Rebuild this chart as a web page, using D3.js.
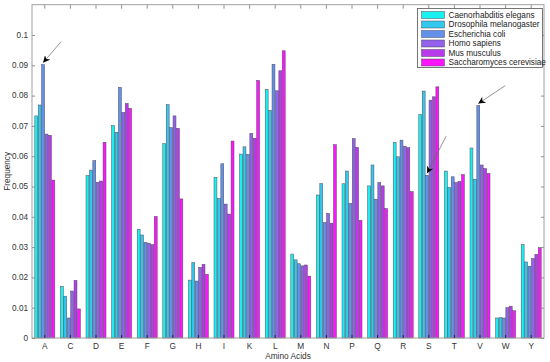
<!DOCTYPE html>
<html>
<head>
<meta charset="utf-8">
<script src="https://cdn.jsdelivr.net/npm/d3@7"></script>
<style>
  body { margin: 0; background: #fff; }
  svg { display: block; font-family: "Liberation Sans", Arial, sans-serif; }
</style>
</head>
<body>
<svg width="550" height="362"></svg>
<script>
const width = 550, height = 362;
const svg = d3.select("svg");

// Data
const aminoAcids = ["A","C","D","E","F","G","H","I","K","L","M","N","P","Q","R","S","T","V","W","Y"];
const species = ["Caenorhabditis elegans","Drosophila melanogaster","Escherichia coli","Homo sapiens","Mus musculus","Saccharomyces cerevisiae"];
const elegans    = [0.0733,0.0170,0.0536,0.0701,0.0359,0.0642,0.0191,0.0530,0.0607,0.0821,0.0277,0.0472,0.0509,0.0502,0.0646,0.0738,0.0551,0.0627,0.0066,0.0308];
const drosophila = [0.0769,0.0138,0.0554,0.0679,0.0340,0.0770,0.0249,0.0460,0.0631,0.0751,0.0258,0.0510,0.0551,0.0571,0.0598,0.0815,0.0497,0.0524,0.0067,0.0251];
const ecoli      = [0.0902,0.0066,0.0585,0.0827,0.0316,0.0694,0.0188,0.0575,0.0606,0.0903,0.0245,0.0381,0.0444,0.0458,0.0653,0.0537,0.0532,0.0767,0.0066,0.0237];
const sapiens    = [0.0673,0.0155,0.0514,0.0744,0.0313,0.0733,0.0233,0.0442,0.0675,0.0816,0.0238,0.0411,0.0658,0.0513,0.0633,0.0785,0.0513,0.0571,0.0100,0.0262];
const musculus   = [0.0669,0.0190,0.0518,0.0774,0.0308,0.0692,0.0243,0.0409,0.0659,0.0882,0.0241,0.0379,0.0629,0.0502,0.0628,0.0796,0.0517,0.0559,0.0105,0.0276];
const cerevisiae = [0.0521,0.0096,0.0646,0.0758,0.0401,0.0459,0.0210,0.0650,0.0850,0.0948,0.0204,0.0638,0.0388,0.0427,0.0483,0.0829,0.0539,0.0543,0.0090,0.0298];
const seriesValues = [elegans, drosophila, ecoli, sapiens, musculus, cerevisiae];
const yTicks = [0,0.01,0.02,0.03,0.04,0.05,0.06,0.07,0.08,0.09,0.1];
const arrowAt = ["A","S","V"];   // E. coli bars marked with arrows

const colors = ["#19f0f0","#33c8ee","#6391ea","#9262ea","#b93aea","#ff14ff"];

const plotLeft = 32, plotRight = 544, plotTop = 4.7, plotBottom = 338;

const x0 = d3.scaleBand().domain(aminoAcids).range([plotLeft, plotRight]).paddingInner(0.2).paddingOuter(0.1);
const x1 = d3.scaleBand().domain(d3.range(species.length)).range([0, x0.bandwidth()]);
const y = d3.scaleLinear().domain([0, 0.11]).range([plotBottom, plotTop]);

// Bars
const groups = svg.append("g").selectAll("g")
    .data(aminoAcids).enter().append("g")
    .attr("transform", d => `translate(${x0(d)},0)`);

groups.selectAll("rect")
    .data((d, i) => seriesValues.map((s, k) => ({ k, v: s[i] })))
    .enter().append("rect")
    .attr("x", d => x1(d.k) + 0.25)
    .attr("y", d => y(d.v))
    .attr("width", x1.bandwidth() - 0.5)
    .attr("height", d => y(0) - y(d.v))
    .attr("fill", d => colors[d.k])
    .attr("stroke", "#4a4a5a")
    .attr("stroke-width", 0.5);

// Frame
svg.append("rect").attr("x", plotLeft).attr("y", plotTop).attr("width", plotRight - plotLeft).attr("height", plotBottom - plotTop)
    .attr("fill", "none").attr("stroke", "#a0a0a0").attr("stroke-width", 1);

// Y axis (ticks point inward), right side mirror
svg.append("g").attr("transform", `translate(${plotLeft},0)`)
    .call(d3.axisRight(y).tickValues(yTicks).tickSize(3).tickFormat(""))
    .call(g => g.select(".domain").remove())
    .selectAll("line").attr("stroke", "#909090");
svg.append("g").attr("transform", `translate(${plotRight},0)`)
    .call(d3.axisLeft(y).tickValues(yTicks).tickSize(3).tickFormat(""))
    .call(g => g.select(".domain").remove())
    .selectAll("line").attr("stroke", "#909090");
svg.append("g").selectAll("text").data(yTicks).enter().append("text")
    .attr("x", plotLeft - 4).attr("y", d => y(d)).attr("dy", "0.35em")
    .attr("text-anchor", "end").attr("font-size", 8.2).attr("fill", "#333")
    .text(d3.format("~g"));

// X axis: ticks at group centres, inward at bottom and top
const xc = d => x0(d) + x0.bandwidth() / 2;
svg.append("g").selectAll("line").data(aminoAcids).enter().append("line")
    .attr("x1", xc).attr("x2", xc).attr("y1", plotBottom).attr("y2", plotBottom - 3)
    .attr("stroke", "#222244").attr("stroke-width", 1);
svg.append("g").selectAll("line").data(aminoAcids).enter().append("line")
    .attr("x1", xc).attr("x2", xc).attr("y1", plotTop).attr("y2", plotTop + 4)
    .attr("stroke", "#909090").attr("stroke-width", 1);
svg.append("g").selectAll("text").data(aminoAcids).enter().append("text")
    .attr("x", xc).attr("y", plotBottom + 10.5).attr("text-anchor", "middle")
    .attr("font-size", 8.3).attr("fill", "#333").text(d => d);

// Axis titles
svg.append("text").attr("x", 288).attr("y", 358.5).attr("text-anchor", "middle")
    .attr("font-size", 8.3).attr("fill", "#333").text("Amino Acids");
svg.append("text").attr("transform", `translate(9.5,${(plotTop + plotBottom) / 2}) rotate(-90)`)
    .attr("text-anchor", "middle").attr("font-size", 8.2).attr("fill", "#333").text("Frequency");

// Arrows pointing at E. coli bars
svg.append("defs").append("marker").attr("id", "head")
    .attr("viewBox", "0 0 10 10").attr("refX", 10).attr("refY", 5)
    .attr("markerWidth", 7).attr("markerHeight", 7).attr("markerUnits", "userSpaceOnUse")
    .attr("orient", "auto")
    .append("path").attr("d", "M0,0 L10,5 L0,10 L3,5 Z").attr("fill", "#000");
const arrowOffsets = { A: [18, -21], S: [19, -37], V: [27, -18] };
arrowAt.forEach(aa => {
    const i = aminoAcids.indexOf(aa);
    const hx = x0(aa) + x1(2) + x1.bandwidth() / 2;
    const hy = y(ecoli[i]) - 2;
    const [dx, dy] = arrowOffsets[aa];
    svg.append("line").attr("x1", hx + dx).attr("y1", hy + dy).attr("x2", hx).attr("y2", hy)
        .attr("stroke", "#666").attr("stroke-width", 0.7).attr("marker-end", "url(#head)");
});

// Legend
const legend = svg.append("g").attr("transform", "translate(417.5,8.5)");
legend.append("rect").attr("width", 125).attr("height", 59)
    .attr("fill", "#fff").attr("stroke", "#555").attr("stroke-width", 0.8);
const items = legend.selectAll(".item").data(species).enter().append("g")
    .attr("transform", (d, i) => `translate(4,${3 + i * 9.5})`);
items.append("rect").attr("width", 23).attr("height", 7)
    .attr("fill", (d, i) => colors[i]).attr("stroke", "#4a4a5a").attr("stroke-width", 0.5);
items.append("text").attr("x", 27).attr("y", 3.5).attr("dy", "0.35em")
    .attr("font-size", 8.2).attr("fill", "#222").text(d => d);
</script>
</body>
</html>
